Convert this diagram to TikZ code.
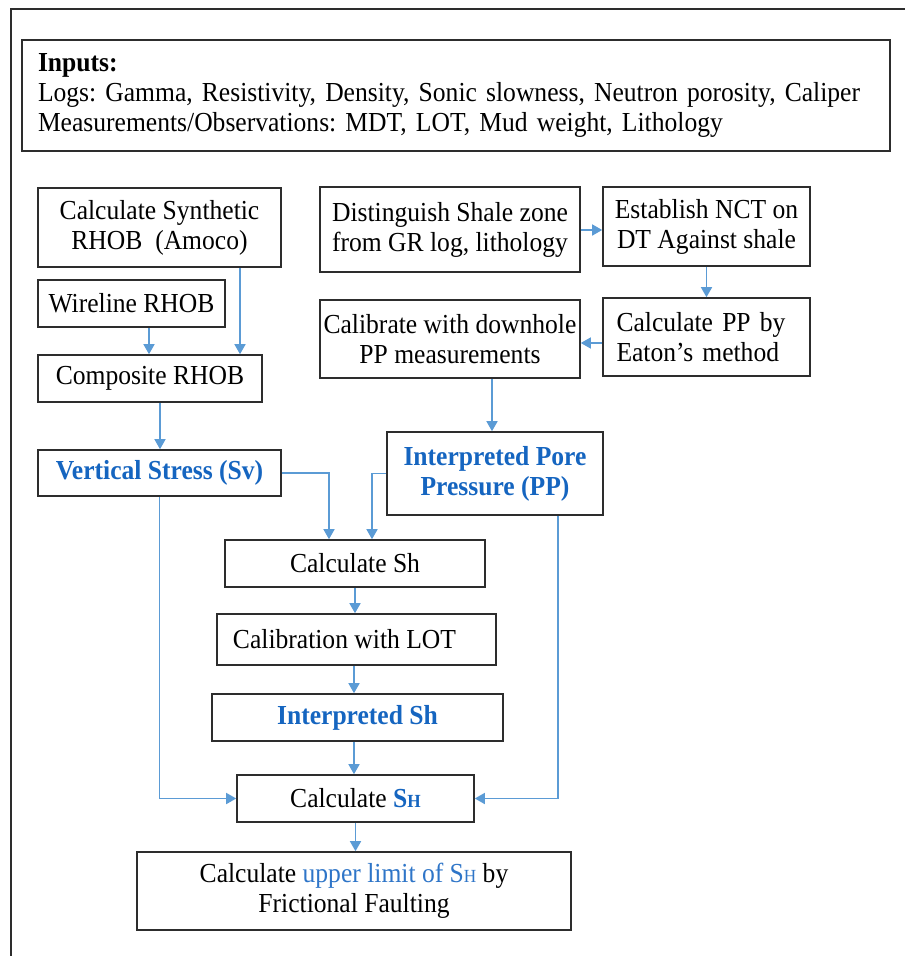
\documentclass[tikz,border=0pt]{standalone}
\usepackage{fontspec}
\setmainfont{Liberation Serif}[FakeStretch=0.93]
\usetikzlibrary{arrows.meta,calc}
\definecolor{arrblue}{RGB}{91,155,213}
\definecolor{txtblue}{RGB}{21,101,192}
\definecolor{txtblue2}{RGB}{46,117,200}
\definecolor{boxline}{RGB}{45,45,45}
\newcommand{\smH}{{\fontsize{18.5}{18.5}\selectfont H}}
\frenchspacing
\begin{document}
\begin{tikzpicture}[x=1pt,y=-1pt,
  box/.style={draw=boxline,line width=1.6pt,inner sep=0pt,align=center,
    font=\fontsize{27.5}{30}\selectfont},
  arr/.style={draw=arrblue,line width=1.5pt,-{Triangle[width=11pt,length=10pt]}},
  bl/.style={text=txtblue,font=\fontsize{27.5}{30}\selectfont\bfseries}]
\fill[white] (0,0) rectangle (905,956);
\useasboundingbox (0,0) rectangle (905,956);
\draw[line width=2pt,boxline] (11,956) -- (11,9) -- (906,9);

\node[box,minimum width=868pt,minimum height=111pt,align=left,text width=836pt] (inputs) at (456,95.5)
  {\textbf{Inputs:}\\Logs: Gamma, Resistivity, Density, Sonic slowness, Neutron porosity, Caliper\\Measurements/Observations: MDT, LOT, Mud weight, Lithology};

\node[box,minimum width=243pt,minimum height=79pt] (synth) at (159.5,227.5) {Calculate Synthetic\\RHOB\ \ (Amoco)};
\node[box,minimum width=187pt,minimum height=47pt] (wire) at (131.5,303.5) {Wireline RHOB};
\node[box,minimum width=224pt,minimum height=47pt] (comp) at (150,378.5) {Composite RHOB};
\node[box,minimum width=243pt,minimum height=46pt,bl] (sv) at (159.5,473) {Vertical Stress (Sv)};

\node[box,minimum width=260pt,minimum height=85pt] (dist) at (450,229.5) {Distinguish Shale zone\\from GR log, lithology};
\node[box,minimum width=207pt,minimum height=79pt] (nct) at (706.5,226.5) {Establish NCT on\\DT Against shale};
\node[box,minimum width=207pt,minimum height=78pt,text width=180pt,align=left] (cpp) at (706.5,337) {Calculate PP by\\Eaton’s method};
\node[box,minimum width=260pt,minimum height=78pt] (calib) at (450,339) {Calibrate with downhole\\PP measurements};
\node[box,minimum width=216pt,minimum height=83pt,bl] (ipp) at (495,473.5) {Interpreted Pore\\Pressure (PP)};

\node[box,minimum width=260pt,minimum height=47pt] (csh) at (355,563.5) {Calculate Sh};
\node[box,minimum width=279pt,minimum height=51pt] (lot) at (356.5,639.5) {Calibration with LOT\hspace{24pt}};
\node[box,minimum width=291pt,minimum height=47pt,bl] (ish) at (357.5,717.5) {Interpreted Sh};
\node[box,minimum width=237pt,minimum height=47pt] (cSH) at (355.5,798.5) {Calculate {\color{txtblue}\bfseries S\smH}};
\node[box,minimum width=434pt,minimum height=78pt] (fric) at (354,891) {Calculate {\color{txtblue2}upper limit of S\smH} by\\Frictional Faulting};

\draw[arr] (synth.south -| 240,0) -- (comp.north -| 240,0);
\draw[arr] (wire.south -| 149,0) -- (comp.north -| 149,0);
\draw[arr] (comp.south -| 160,0) -- (sv.north -| 160,0);
\draw[arr] (dist.east |- 0,230) -- (nct.west |- 0,230);
\draw[arr] (nct.south) -- (cpp.north);
\draw[arr] (cpp.west |- 0,343) -- (calib.east |- 0,343);
\draw[arr] (calib.south -| 492,0) -- (ipp.north -| 492,0);
\draw[arr] (sv.east) -| ($(csh.north)+(-26,0)$);
\draw[arr] (ipp.west) -| ($(csh.north)+(17,0)$);
\draw[arr] (csh.south) -- (lot.north -| csh.south);
\draw[arr] (lot.south -| 354,0) -- (ish.north -| 354,0);
\draw[arr] (ish.south -| 354,0) -- (cSH.north -| 354,0);
\draw[arr] (sv.south) |- (cSH.west);
\draw[arr] (ipp.south -| 558,0) |- (cSH.east);
\draw[arr] (cSH.south) -- (fric.north -| cSH.south);
\end{tikzpicture}
\end{document}
